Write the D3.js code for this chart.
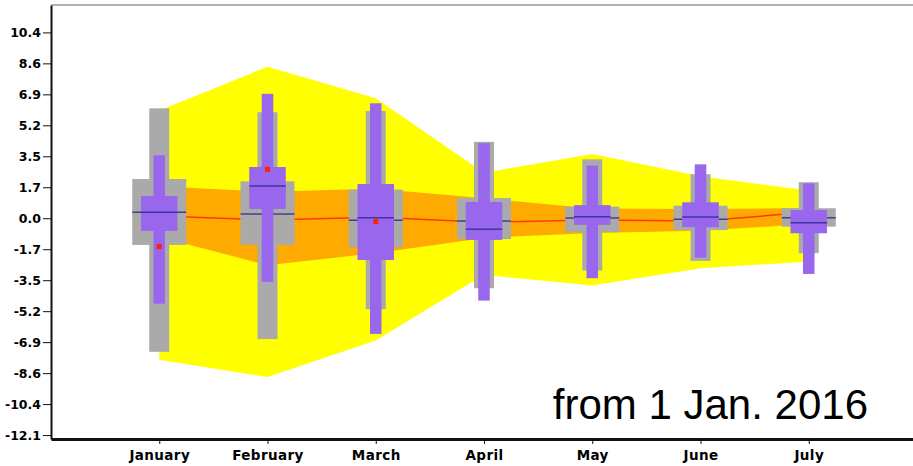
<!DOCTYPE html>
<html>
<head>
<meta charset="utf-8">
<script src="https://cdn.jsdelivr.net/npm/d3@7"></script>
<style>
  html, body { margin: 0; padding: 0; background: #fff; }
  svg { display: block; }
</style>
</head>
<body>
<svg id="chart" width="913" height="466"></svg>
<script>
// Months on the horizontal axis
const months = ["January", "February", "March", "April", "May", "June", "July"];

// Outer fan band (yellow)
const outerHigh = [6.02, 8.46, 6.70, 2.54, 3.59, 2.34, 1.55];
const outerLow  = [-7.91, -8.87, -6.83, -3.16, -3.76, -2.80, -2.41];
// Inner fan band (orange)
const innerHigh = [1.79, 1.48, 1.65, 1.12, 0.54, 0.52, 0.57];
const innerLow  = [-1.05, -2.62, -1.95, -1.10, -0.82, -0.70, -0.32];
// Central path (red)
const centre    = [0.12, -0.10, 0.06, -0.22, -0.10, -0.16, 0.33];

// Grey distribution: whisker ends, quartiles, median
const greyMin = [-7.46, -6.75, -5.08, -3.91, -2.92, -2.38, -1.95];
const greyQ1  = [-1.49, -1.49, -1.62, -1.16, -0.78, -0.66, -0.47];
const greyMed = [0.33, 0.24, -0.11, -0.15, 0.02, -0.06, 0.03];
const greyQ3  = [2.19, 2.06, 1.60, 1.13, 0.65, 0.70, 0.56];
const greyMax = [6.14, 5.92, 5.99, 4.27, 3.29, 2.46, 2.01];

// Purple distribution: whisker ends, quartiles, median
const purpleMin = [-4.77, -3.55, -6.46, -4.60, -3.35, -2.20, -3.11];
const purpleQ1  = [-0.71, 0.52, -2.33, -1.21, -0.37, -0.50, -0.84];
const purpleMed = [0.33, 1.80, 0.03, -0.61, 0.09, 0.07, -0.25];
const purpleQ3  = [1.24, 2.86, 1.91, 0.91, 0.73, 0.89, 0.46];
const purpleMax = [3.52, 6.95, 6.42, 4.19, 2.94, 3.01, 1.95];

// Observed value markers (null where none is shown)
const observed = [-1.58, 2.73, -0.19, null, null, null, null];

// Y-axis ticks and their labels
const yTickValues = [10.38, 8.65, 6.92, 5.19, 3.46, 1.73, 0, -1.73, -3.46, -5.19, -6.92, -8.65, -10.38, -12.11];
const yTickLabels = ["10.4", "8.6", "6.9", "5.2", "3.5", "1.7", "0.0", "-1.7", "-3.5", "-5.2", "-6.9", "-8.6", "-10.4", "-12.1"];

const note = "from 1 Jan. 2016";

// ---------------------------------------------------------------
const svg = d3.select("#chart");
const plotLeft = 51, plotRight = 917, plotTop = 5, plotBottom = 439;

const x = d3.scalePoint().domain(months).range([plotLeft, plotRight]).padding(1);
const y = d3.scaleLinear().domain([-12.33, 11.91]).range([plotBottom, plotTop]);

const rows = months.map((m, i) => ({
  m, oh: outerHigh[i], ol: outerLow[i], ih: innerHigh[i], il: innerLow[i], c: centre[i],
  gMin: greyMin[i], gQ1: greyQ1[i], gMed: greyMed[i], gQ3: greyQ3[i], gMax: greyMax[i],
  pMin: purpleMin[i], pQ1: purpleQ1[i], pMed: purpleMed[i], pQ3: purpleQ3[i], pMax: purpleMax[i],
  obs: observed[i]
}));

const plot = svg.append("g");

// fan bands
plot.append("path")
  .datum(rows)
  .attr("fill", "#ffff00")
  .attr("d", d3.area().x(d => x(d.m)).y0(d => y(d.ol)).y1(d => y(d.oh)));

plot.append("path")
  .datum(rows)
  .attr("fill", "#ffaa00")
  .attr("d", d3.area().x(d => x(d.m)).y0(d => y(d.il)).y1(d => y(d.ih)));

plot.append("path")
  .datum(rows)
  .attr("fill", "none")
  .attr("stroke", "#ff3a00")
  .attr("stroke-width", 1.5)
  .attr("d", d3.line().x(d => x(d.m)).y(d => y(d.c)));

// box widths
const greyWide = 54, greyNarrow = 20, purpleWide = 36.5, purpleNarrow = 11.5;
const medianColor = "#2e2e8c";

function bar(g, d, w, lo, hi, fill) {
  g.append("rect")
    .attr("x", x(d.m) - w / 2)
    .attr("y", y(hi))
    .attr("width", w)
    .attr("height", y(lo) - y(hi))
    .attr("fill", fill);
}
function median(g, d, w, v) {
  g.append("line")
    .attr("x1", x(d.m) - w / 2).attr("x2", x(d.m) + w / 2)
    .attr("y1", y(v)).attr("y2", y(v))
    .attr("stroke", medianColor)
    .attr("stroke-width", 1.5)
    .attr("stroke-opacity", 0.85);
}

const boxes = plot.selectAll("g.box").data(rows).join("g").attr("class", "box");
boxes.each(function (d) {
  const g = d3.select(this);
  bar(g, d, greyNarrow, d.gMin, d.gMax, "#aaaaaa");
  bar(g, d, greyWide, d.gQ1, d.gQ3, "#aaaaaa");
  median(g, d, greyWide, d.gMed);
  bar(g, d, purpleNarrow, d.pMin, d.pMax, "#9966ee");
  bar(g, d, purpleWide, d.pQ1, d.pQ3, "#9966ee");
  median(g, d, purpleWide, d.pMed);
  if (d.obs !== null) {
    g.append("rect")
      .attr("x", x(d.m) - 2.5)
      .attr("y", y(d.obs) - 2.5)
      .attr("width", 5).attr("height", 5)
      .attr("fill", "#ff2200");
  }
});

// frame line along the top
svg.append("line")
  .attr("x1", plotLeft).attr("x2", 913)
  .attr("y1", plotTop).attr("y2", plotTop)
  .attr("stroke", "#999")
  .attr("stroke-width", 1.5);

// axes
const yAxis = d3.axisLeft(y)
  .tickValues(yTickValues)
  .tickFormat((v, i) => yTickLabels[i])
  .tickSize(8)
  .tickSizeOuter(0)
  .tickPadding(2);

const yG = svg.append("g").attr("transform", `translate(${plotLeft},0)`).call(yAxis);
yG.select(".domain").attr("stroke", "#111").attr("stroke-width", 2);
yG.selectAll(".tick line").attr("stroke", "#111").attr("stroke-width", 1);
yG.selectAll("text")
  .attr("fill", "#000")
  .style("font-family", "'DejaVu Sans', sans-serif")
  .style("font-weight", "bold")
  .style("font-size", "12.5px");

const xAxis = d3.axisBottom(x).tickSize(5).tickSizeOuter(0).tickPadding(6);
const xG = svg.append("g").attr("transform", `translate(0,${plotBottom})`).call(xAxis);
xG.select(".domain").attr("stroke", "#111").attr("stroke-width", 3);
xG.selectAll(".tick line").attr("stroke", "#111").attr("stroke-width", 1);
xG.selectAll("text")
  .attr("fill", "#000")
  .style("font-family", "'DejaVu Sans', sans-serif")
  .style("font-weight", "bold")
  .style("font-size", "13.5px")
  .style("letter-spacing", "0.4px");

// start-date note
svg.append("text")
  .attr("x", 868)
  .attr("y", 419)
  .attr("text-anchor", "end")
  .style("font-family", "'Liberation Sans', Arial, sans-serif")
  .style("font-size", "42px")
  .attr("fill", "#000")
  .text(note);
</script>
</body>
</html>
